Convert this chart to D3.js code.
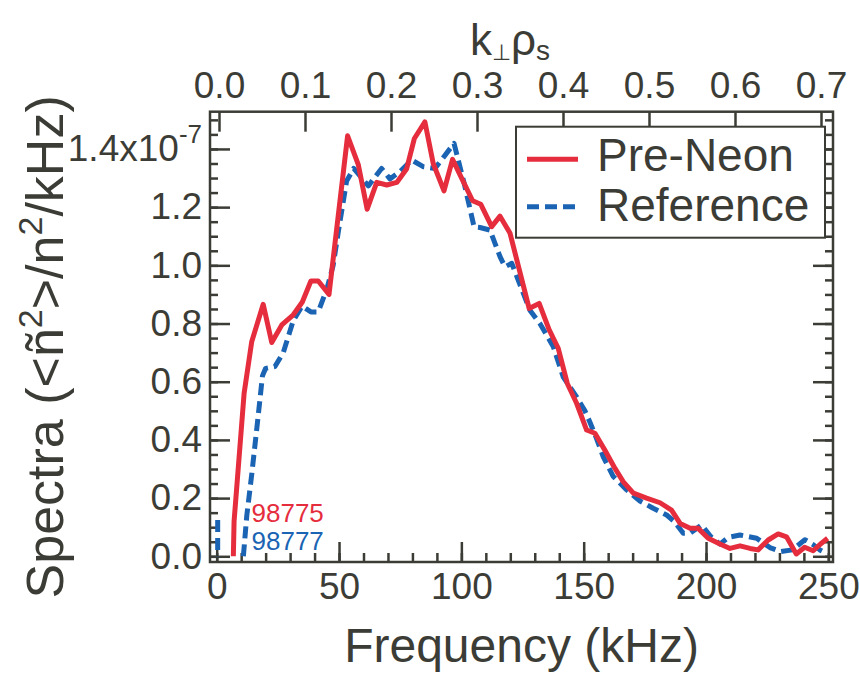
<!DOCTYPE html>
<html>
<head>
<meta charset="utf-8">
<script src="https://cdn.jsdelivr.net/npm/d3@7"></script>
<style>
  body { margin: 0; background: #fff; }
  svg text { font-family: "Liberation Sans", Arial, sans-serif; fill: #3c3c36; }
</style>
</head>
<body>
<svg id="chart" width="860" height="673"></svg>
<script>
// Pre-Neon shot 98775 (solid red), frequency in kHz, spectra in units of 1e-7
const freqPreNeon = [6.8, 7.1, 11.2, 14.3, 19.0, 22.5, 26.6, 31.3, 35.0, 38.5, 41.5, 45.9,
  53.5, 57.9, 61.5, 65.4, 69.5, 73.6, 77.6, 80.8, 85.1, 88.5, 92.9, 96.4, 100.1, 104.6,
  107.9, 112.4, 115.8, 119.9, 123.7, 127.7, 131.8, 135.9, 139.6, 143.3, 147.1, 151.2,
  154.6, 158.7, 162.8, 166.2, 170.3, 175.7, 181.2, 185.9, 189.4, 193.5, 196.8, 200.9,
  205.7, 209.8, 213.9, 218.0, 221.3, 225.4, 229.5, 232.9, 236.9, 240.3, 243.8, 247.2, 249.7];
const specPreNeon = [0.0, 0.12, 0.56, 0.737, 0.866, 0.735, 0.795, 0.83, 0.874, 0.946, 0.946, 0.90,
  1.445, 1.345, 1.193, 1.285, 1.276, 1.285, 1.331, 1.436, 1.493, 1.35, 1.256, 1.364, 1.30, 1.222,
  1.21, 1.133, 1.169, 1.11, 0.984, 0.852, 0.869, 0.778, 0.715, 0.594, 0.526, 0.434,
  0.423, 0.364, 0.302, 0.256, 0.217, 0.200, 0.184, 0.159, 0.113, 0.096, 0.096, 0.062,
  0.042, 0.027, 0.036, 0.027, 0.022, 0.056, 0.077, 0.067, 0.008, 0.031, 0.019, 0.045, 0.062];

// Reference shot 98777 (dashed blue); null marks the gap near the origin
const freqRef = [0.4, 0.4, 5.0, 10.9, 12.3, 14.3, 17.0, 18.7, 20.0, 23.8, 27.2, 31.3, 34.9,
  38.5, 41.5, 45.0, 47.6, 49.7, 53.1, 56.0, 62.0, 67.4, 70.8, 74.9, 79.7, 84.4, 89.2, 97.0,
  101.2, 105.2, 107.6, 111.7, 115.8, 117.8, 120.6, 128.0, 132.1, 137.6, 141.6, 147.1, 150.5,
  152.6, 155.0, 158.0, 162.1, 167.6, 173.0, 178.4, 183.9, 187.0, 190.7, 193.5, 198.2, 202.0,
  205.7, 209.1, 213.9, 220.7, 226.1, 230.5, 235.3, 240.4, 243.8, 246.5, 249.6];
const specRef = [0.125, 0.0, null, 0.0, 0.14, 0.28, 0.486, 0.62, 0.646, 0.652, 0.70, 0.81, 0.86,
  0.84, 0.84, 0.918, 1.0, 1.115, 1.29, 1.333, 1.273, 1.333, 1.297, 1.322, 1.362, 1.339, 1.333, 1.419,
  1.28, 1.132, 1.13, 1.121, 1.03, 0.995, 1.007, 0.846, 0.80, 0.72, 0.617, 0.548, 0.50,
  0.46, 0.41, 0.342, 0.274, 0.228, 0.19, 0.165, 0.142, 0.12, 0.079, 0.079, 0.108, 0.067,
  0.042, 0.065, 0.073, 0.062, 0.03, 0.016, 0.022, 0.057, 0.04, 0.022, 0.009];

const freqTicks = [0, 50, 100, 150, 200, 250];
const kTicks = [0.0, 0.1, 0.2, 0.3, 0.4, 0.5, 0.6, 0.7];
const specTicks = [0.0, 0.2, 0.4, 0.6, 0.8, 1.0, 1.2, 1.4];
const seriesNames = ["Pre-Neon", "Reference"];
const shotLabels = ["98775", "98777"];

const ink = "#3c3c36";
const red = "#e52d3e";
const blue = "#1b64b4";

const plotLeft = 210, plotRight = 833, plotTop = 111.7, plotBottom = 562;

const svg = d3.select("#chart");

const x = d3.scaleLinear().domain([-2.74, 251.9]).range([plotLeft, plotRight]);
const k = d3.scaleLinear().domain([0, 0.7]).range([219, 821]);
const y = d3.scaleLinear().domain([-0.0196, 1.528]).range([plotBottom, plotTop]);

// clip for the curves
svg.append("clipPath").attr("id", "plot-clip")
  .append("rect")
  .attr("x", plotLeft).attr("y", plotTop)
  .attr("width", plotRight - plotLeft).attr("height", plotBottom - plotTop);

function styleAxis(g) {
  g.select(".domain").remove();
  g.selectAll(".tick line").attr("stroke", ink).attr("stroke-width", 2.5);
  g.selectAll(".tick text")
    .attr("font-family", "Liberation Sans, Arial, sans-serif")
    .attr("font-size", 37)
    .attr("fill", ink);
}

const steps = (a, b, s) => d3.range(a, b + s / 2, s).map(v => +v.toFixed(4));

// bottom: minor every 10, major every 50
svg.append("g")
  .attr("transform", `translate(0,${plotBottom})`)
  .call(d3.axisBottom(x).tickValues(steps(0, 250, 10)).tickSize(-9).tickFormat(""))
  .call(styleAxis);
svg.append("g")
  .attr("transform", `translate(0,${plotBottom})`)
  .call(d3.axisBottom(x).tickValues(freqTicks).tickSize(-20).tickPadding(11))
  .call(styleAxis);

// top: k_perp rho_s
svg.append("g")
  .attr("transform", `translate(0,${plotTop})`)
  .call(d3.axisTop(k).tickValues(kTicks).tickSize(-20).tickPadding(14).tickFormat(d3.format(".1f")))
  .call(styleAxis);

// left and right: minor every 0.05, major every 0.2
const minorSpec = steps(0, 1.5, 0.05);
svg.append("g")
  .attr("transform", `translate(${plotLeft},0)`)
  .call(d3.axisLeft(y).tickValues(minorSpec).tickSize(-8).tickFormat(""))
  .call(styleAxis);
const leftMajor = svg.append("g")
  .attr("transform", `translate(${plotLeft},0)`)
  .call(d3.axisLeft(y).tickValues(specTicks).tickSize(-20).tickPadding(8).tickFormat(d3.format(".1f")))
  .call(styleAxis);

// the top label carries the exponent
leftMajor.selectAll(".tick text")
  .filter(d => d === 1.4)
  .text(null)
  .call(t => {
    t.append("tspan").text("1.4x10");
    t.append("tspan").attr("font-size", 26).attr("dy", -18).text("-7");
  });

svg.append("g")
  .attr("transform", `translate(${plotRight},0)`)
  .call(d3.axisRight(y).tickValues(minorSpec).tickSize(-8).tickFormat(""))
  .call(styleAxis);
svg.append("g")
  .attr("transform", `translate(${plotRight},0)`)
  .call(d3.axisRight(y).tickValues(specTicks).tickSize(-20).tickFormat(""))
  .call(styleAxis);

// frame
svg.append("rect")
  .attr("x", plotLeft).attr("y", plotTop)
  .attr("width", plotRight - plotLeft).attr("height", plotBottom - plotTop)
  .attr("fill", "none").attr("stroke", ink).attr("stroke-width", 2.5);

// curves
const line = d3.line()
  .defined(d => d[1] !== null)
  .x(d => x(d[0]))
  .y(d => y(d[1]));

const curves = svg.append("g").attr("clip-path", "url(#plot-clip)");

curves.append("path")
  .datum(freqRef.map((f, i) => [f, specRef[i]]))
  .attr("d", line)
  .attr("fill", "none")
  .attr("stroke", blue)
  .attr("stroke-width", 5)
  .attr("stroke-dasharray", "12,6")
  .attr("stroke-linejoin", "round");

curves.append("path")
  .datum(freqPreNeon.map((f, i) => [f, specPreNeon[i]]))
  .attr("d", line)
  .attr("fill", "none")
  .attr("stroke", red)
  .attr("stroke-width", 5)
  .attr("stroke-linejoin", "round");

// shot numbers
svg.append("text")
  .attr("x", 251.5).attr("y", 521.5)
  .attr("font-size", 26)
  .style("fill", red)
  .text(shotLabels[0]);
svg.append("text")
  .attr("x", 251.5).attr("y", 550)
  .attr("font-size", 26)
  .style("fill", blue)
  .text(shotLabels[1]);

// legend
const legend = svg.append("g");
legend.append("rect")
  .attr("x", 516).attr("y", 126.7)
  .attr("width", 309).attr("height", 111)
  .attr("fill", "#fff").attr("stroke", ink).attr("stroke-width", 2);

[[red, null, 159.3, 171], [blue, "12,6", 206.7, 220.5]].forEach(([c, dash, ly, ty], i) => {
  legend.append("line")
    .attr("x1", 527).attr("x2", 578)
    .attr("y1", ly).attr("y2", ly)
    .attr("stroke", c).attr("stroke-width", 5)
    .attr("stroke-dasharray", dash);
  legend.append("text")
    .attr("x", 597).attr("y", ty)
    .attr("font-size", 46)
    .text(seriesNames[i]);
});

// axis titles
svg.append("text")
  .attr("x", (plotLeft + plotRight) / 2).attr("y", 662)
  .attr("text-anchor", "middle")
  .attr("font-size", 48)
  .text("Frequency (kHz)");

const kt = svg.append("text")
  .attr("x", 510).attr("y", 55)
  .attr("text-anchor", "middle")
  .attr("font-size", 44);
kt.append("tspan").text("k");
kt.append("tspan").attr("font-size", 22).attr("dy", 5).text("⊥");
kt.append("tspan").attr("dy", -5).text("ρ");
kt.append("tspan").attr("font-size", 28).attr("dy", 5).text("s");

const yt = svg.append("text")
  .attr("transform", `translate(63,${(plotTop + plotBottom) / 2 + 10}) rotate(-90)`)
  .attr("text-anchor", "middle")
  .attr("font-size", 52);
yt.append("tspan").text("Spectra (<ñ");
yt.append("tspan").attr("font-size", 34).attr("dy", -21).text("2");
yt.append("tspan").attr("dy", 21).text(">/n");
yt.append("tspan").attr("font-size", 34).attr("dy", -21).text("2");
yt.append("tspan").attr("dy", 21).text("/kHz)");
</script>
</body>
</html>
